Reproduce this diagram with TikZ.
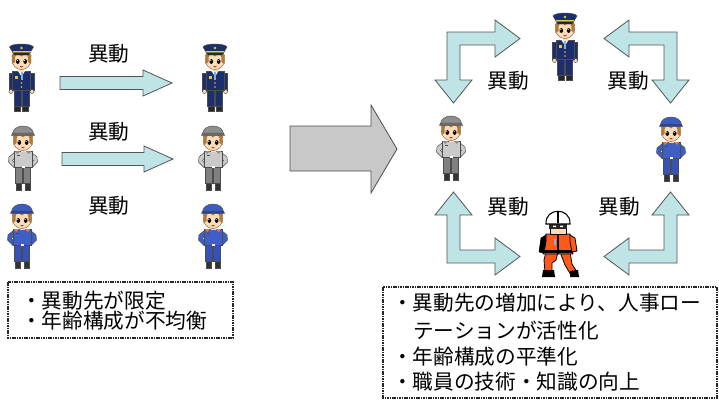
\documentclass[tikz,border=0pt]{standalone}
\usepackage{fontspec}
\newfontfamily\jp{Noto Sans CJK JP}
\definecolor{skin}{HTML}{FFDCB8}
\definecolor{hair}{HTML}{B07A3C}
\definecolor{navy}{HTML}{1C2F6B}
\definecolor{gold}{HTML}{E8C840}
\definecolor{tieblue}{HTML}{7FB3E0}
\definecolor{capgray}{HTML}{8E8E8E}
\definecolor{coatgray}{HTML}{CACACA}
\definecolor{pantgray}{HTML}{808080}
\definecolor{capblue}{HTML}{3B5CC4}
\definecolor{coatblue}{HTML}{3F5FC8}
\definecolor{pantblue}{HTML}{3552B8}
\definecolor{collarorange}{HTML}{F07830}
\definecolor{rescueorange}{HTML}{FF5A1A}
\definecolor{flowfill}{HTML}{BFE4E6}
\definecolor{flowline}{HTML}{555555}
\definecolor{shiftfill}{HTML}{C8C8C8}
\tikzset{
  flow/.style={fill=flowfill, draw=flowline, line width=0.6pt, line join=miter},
  shiftarrow/.style={fill=shiftfill, draw=black!70, line width=0.6pt, line join=miter},
  movelabel/.style={font=\jp\fontsize{15.5pt}{18pt}\selectfont, inner sep=0pt},
  noteline/.style={font=\jp\fontsize{15.5pt}{18pt}\selectfont, anchor=west, inner sep=0pt},
  notebox/.style={draw=black!85, line width=1.4pt, dash pattern=on 1.2pt off 0.6pt},
  ol/.style={draw=black!70, line width=0.35pt},
  % face with hair, eyes and mouth, centred on the origin
  pics/face/.style={code={
    \filldraw[fill=skin, draw=hair!70!black, line width=0.35pt] (0,0) ellipse (9.5 and 9.5);
    \fill[hair] (-9.8,-5) -- (-6,-8) -- (-6.5,2) -- (-9.5,4) -- cycle;
    \fill[hair] (9.8,-5) -- (6,-8) -- (6.5,2) -- (9.5,4) -- cycle;
    \fill[hair] (-8,-8.5) -- (8,-8.5) -- (7,-4) -- (3,-6) -- (0,-3.5) -- (-3,-6) -- (-7,-4) -- cycle;
    \fill[black] (-3.7,1.5) ellipse (1.8 and 2.4) (3.7,1.5) ellipse (1.8 and 2.4);
    \fill[white] (-4.2,0.6) circle (0.6) (3.2,0.6) circle (0.6);
    \fill[pink!60] (-6.3,4.5) circle (1.2) (6.3,4.5) circle (1.2);
    \draw[red!60!black, line width=0.4pt] (-1.5,6) .. controls (0,7.5) .. (1.5,6);
  }},
  % police officer, origin at the top of the cap
  pics/police/.style={code={
    \filldraw[fill=black!85, ol] (-7,62) rectangle (-1,68) (1,62) rectangle (7,68);
    \filldraw[fill=navy, ol] (-7.5,45) rectangle (-0.5,63) (0.5,45) rectangle (7.5,63);
    \filldraw[fill=navy, ol] (-12.5,30) rectangle (-8.5,47) (8.5,30) rectangle (12.5,47);
    \filldraw[fill=skin, ol] (-10.5,48.5) circle (2) (10.5,48.5) circle (2);
    \filldraw[fill=navy, ol] (-9,28) rectangle (9,47);
    \fill[white] (-3.5,28) -- (3.5,28) -- (0,33.5) -- cycle;
    \fill[tieblue] (-1,29) rectangle (1,37);
    \fill[gold] (-6.5,33) rectangle (-3.5,36);
    \fill[gold] (0,40) circle (0.8) (0,44) circle (0.8);
    \fill[skin] (-2.5,25) rectangle (2.5,29);
    \pic at (0,17) {face};
    \filldraw[fill=navy, ol] (-12,4) .. controls (-10,0) and (10,0) .. (12,4) -- (9,9) -- (-9,9) -- cycle;
    \fill[gold] (-9,8) rectangle (9,9.5);
    \filldraw[fill=black!85, ol] (-9,9.5) -- (9,9.5) -- (7,12) -- (-7,12) -- cycle;
    \fill[gold] (0,5) circle (1.3);
  }},
  % worker in cap and overalls: cap, coat, trousers, collar colours
  pics/worker/.style n args={4}{code={
    \filldraw[fill=black!80, ol] (-7,60) rectangle (-2,68) (2,60) rectangle (7,68);
    \filldraw[fill=#3, ol] (-7.5,44) rectangle (-0.5,61) (0.5,44) rectangle (7.5,61);
    \filldraw[fill=#2, ol] (-8,30) -- (-14,35) -- (-14.5,40) -- (-9,45.5) -- (-8,41.5) -- (-10.5,38.5) -- (-8,35.5) -- cycle;
    \filldraw[fill=#2, ol] (8,30) -- (14,35) -- (14.5,40) -- (9,45.5) -- (8,41.5) -- (10.5,38.5) -- (8,35.5) -- cycle;
    \filldraw[fill=#2, ol] (-9,29) rectangle (9,45);
    \fill[#4] (-8,29) -- (-3,29) -- (-6,32) -- cycle (8,29) -- (3,29) -- (6,32) -- cycle;
    \fill[black!70] (-6,33) rectangle (-3,34.2);
    \fill[white] (-1.5,43.5) rectangle (1.5,45.5);
    \fill[skin] (-2.5,26) rectangle (2.5,29.5);
    \pic at (0,19) {face};
    \filldraw[fill=#1, ol] (-10.5,13) .. controls (-11.5,1) and (11.5,1) .. (10.5,13) -- cycle;
    \filldraw[fill=#1!75!black, ol] (-10.5,11) -- (10.5,11) -- (11.5,13.5) -- (-11.5,13.5) -- cycle;
  }},
  % kneeling rescue worker in helmet and orange suit
  pics/rescuer/.style={code={
    \filldraw[fill=rescueorange, draw=black, line width=0.6pt] (2,44) -- (12,44) -- (14,56) -- (19,64) -- (13,67) -- (7,57) -- cycle;
    \fill[black] (12,63) -- (20,62) -- (21,69) -- (12,69) -- cycle;
    \filldraw[fill=rescueorange, draw=black, line width=0.6pt] (-12,44) -- (0,44) -- (-2,52) -- (-6,55) -- (-6,64) -- (-13,64) -- (-14,52) -- cycle;
    \fill[black] (-15,62) -- (-4,62) -- (-3,69) -- (-16,69) -- cycle;
    \filldraw[fill=rescueorange, draw=black, line width=0.6pt] (-12,26) -- (12,26) -- (15,46) -- (-15,46) -- cycle;
    \fill[black] (-1,26) rectangle (1,46);
    \fill[black] (-15,42) rectangle (15,45);
    \fill[tieblue] (-4.5,31) rectangle (-1.8,37);
    \filldraw[fill=black, draw=black] (-12,27) -- (-17,30) -- (-19,44) -- (-14,45) -- (-12,34) -- cycle;
    \filldraw[fill=rescueorange, draw=black, line width=0.6pt] (12,27) -- (17,30) -- (19,43) -- (14,44) -- (12,34) -- cycle;
    \filldraw[fill=skin, draw=black, line width=0.5pt] (-8,14) rectangle (8,26);
    \fill[black!85] (-9,16) rectangle (9,21);
    \fill[white] (-5,17.5) rectangle (-2,19) (2,17.5) rectangle (5,19);
    \filldraw[fill=white, draw=black, line width=0.8pt] (-12,16) .. controls (-13,-1) and (13,-1) .. (12,16) -- cycle;
    \draw[black, line width=0.8pt] (0,3.5) -- (0,15);
  }}
}
\begin{document}
\begin{tikzpicture}[x=0.75pt, y=-0.75pt]
\useasboundingbox (0,0) rectangle (719,400);

% ---- before: fixed transfer lines ----
\pic (pa1) at (21.5,43) {police};
\pic (ga1) at (23,122) {worker={capgray}{coatgray}{pantgray}{coatgray!70!black}};
\pic (ba1) at (22,200) {worker={capblue}{coatblue}{pantblue}{collarorange}};
\pic (pa2) at (215,43) {police};
\pic (ga2) at (213,122) {worker={capgray}{coatgray}{pantgray}{coatgray!70!black}};
\pic (ba2) at (213,200) {worker={capblue}{coatblue}{pantblue}{collarorange}};

\draw[flow] (60,76.5) -- (143,76.5) -- (143,70) -- (172,83) -- (143,96) -- (143,89.5) -- (60,89.5) -- cycle;
\draw[flow] (62,152.5) -- (144,152.5) -- (144,146) -- (173,159) -- (144,172) -- (144,165.5) -- (62,165.5) -- cycle;

\node[movelabel] (m1) at (109,54) {異動};
\node[movelabel] (m2) at (109,132) {異動};
\node[movelabel] (m3) at (109,206) {異動};

\draw[notebox] (8,282) rectangle (233,338);
\node[noteline] (l1) at (21,301) {・異動先が限定};
\node[noteline] (l2) at (21,321) {・年齢構成が不均衡};

% ---- transition ----
\draw[shiftarrow] (290,126) -- (371,126) -- (371,105) -- (397,149) -- (371,193) -- (371,171) -- (290,171) -- cycle;

% ---- after: rotation among four posts ----
\pic (pb) at (565,12) {police};
\pic (gb) at (451,112) {worker={capgray}{coatgray}{pantgray}{coatgray!70!black}};
\pic (bb) at (671,113) {worker={capblue}{coatblue}{pantblue}{collarorange}};
\pic (rb) at (558,208) {rescuer};

% corner arrows
\draw[flow] (447,32) -- (495,32) -- (495,20) -- (520,38.5) -- (495,57) -- (495,45) -- (460,45) -- (460,80) -- (472,80) -- (453.5,103) -- (435,80) -- (447,80) -- cycle;
\draw[flow] (677,32) -- (629,32) -- (629,20) -- (604,38.5) -- (629,57) -- (629,45) -- (664,45) -- (664,80) -- (652,80) -- (670.5,103) -- (689,80) -- (677,80) -- cycle;
\draw[flow] (447,263) -- (495,263) -- (495,275) -- (520,256.5) -- (495,238) -- (495,250) -- (460,250) -- (460,215) -- (472,215) -- (453.5,192) -- (435,215) -- (447,215) -- cycle;
\draw[flow] (677,263) -- (629,263) -- (629,275) -- (604,256.5) -- (629,238) -- (629,250) -- (664,250) -- (664,215) -- (652,215) -- (670.5,192) -- (689,215) -- (677,215) -- cycle;

\node[movelabel] (m4) at (508,81) {異動};
\node[movelabel] (m5) at (628,81) {異動};
\node[movelabel] (m6) at (508,207) {異動};
\node[movelabel] (m7) at (619,207) {異動};

\draw[notebox] (383,287) rectangle (717,398);
\node[noteline] (r1) at (392,303) {・異動先の増加により、人事ロー};
\node[noteline] (r2) at (413,331) {テーションが活性化};
\node[noteline] (r3) at (392,357) {・年齢構成の平準化};
\node[noteline] (r4) at (392,382) {・職員の技術・知識の向上};
\end{tikzpicture}
\end{document}
